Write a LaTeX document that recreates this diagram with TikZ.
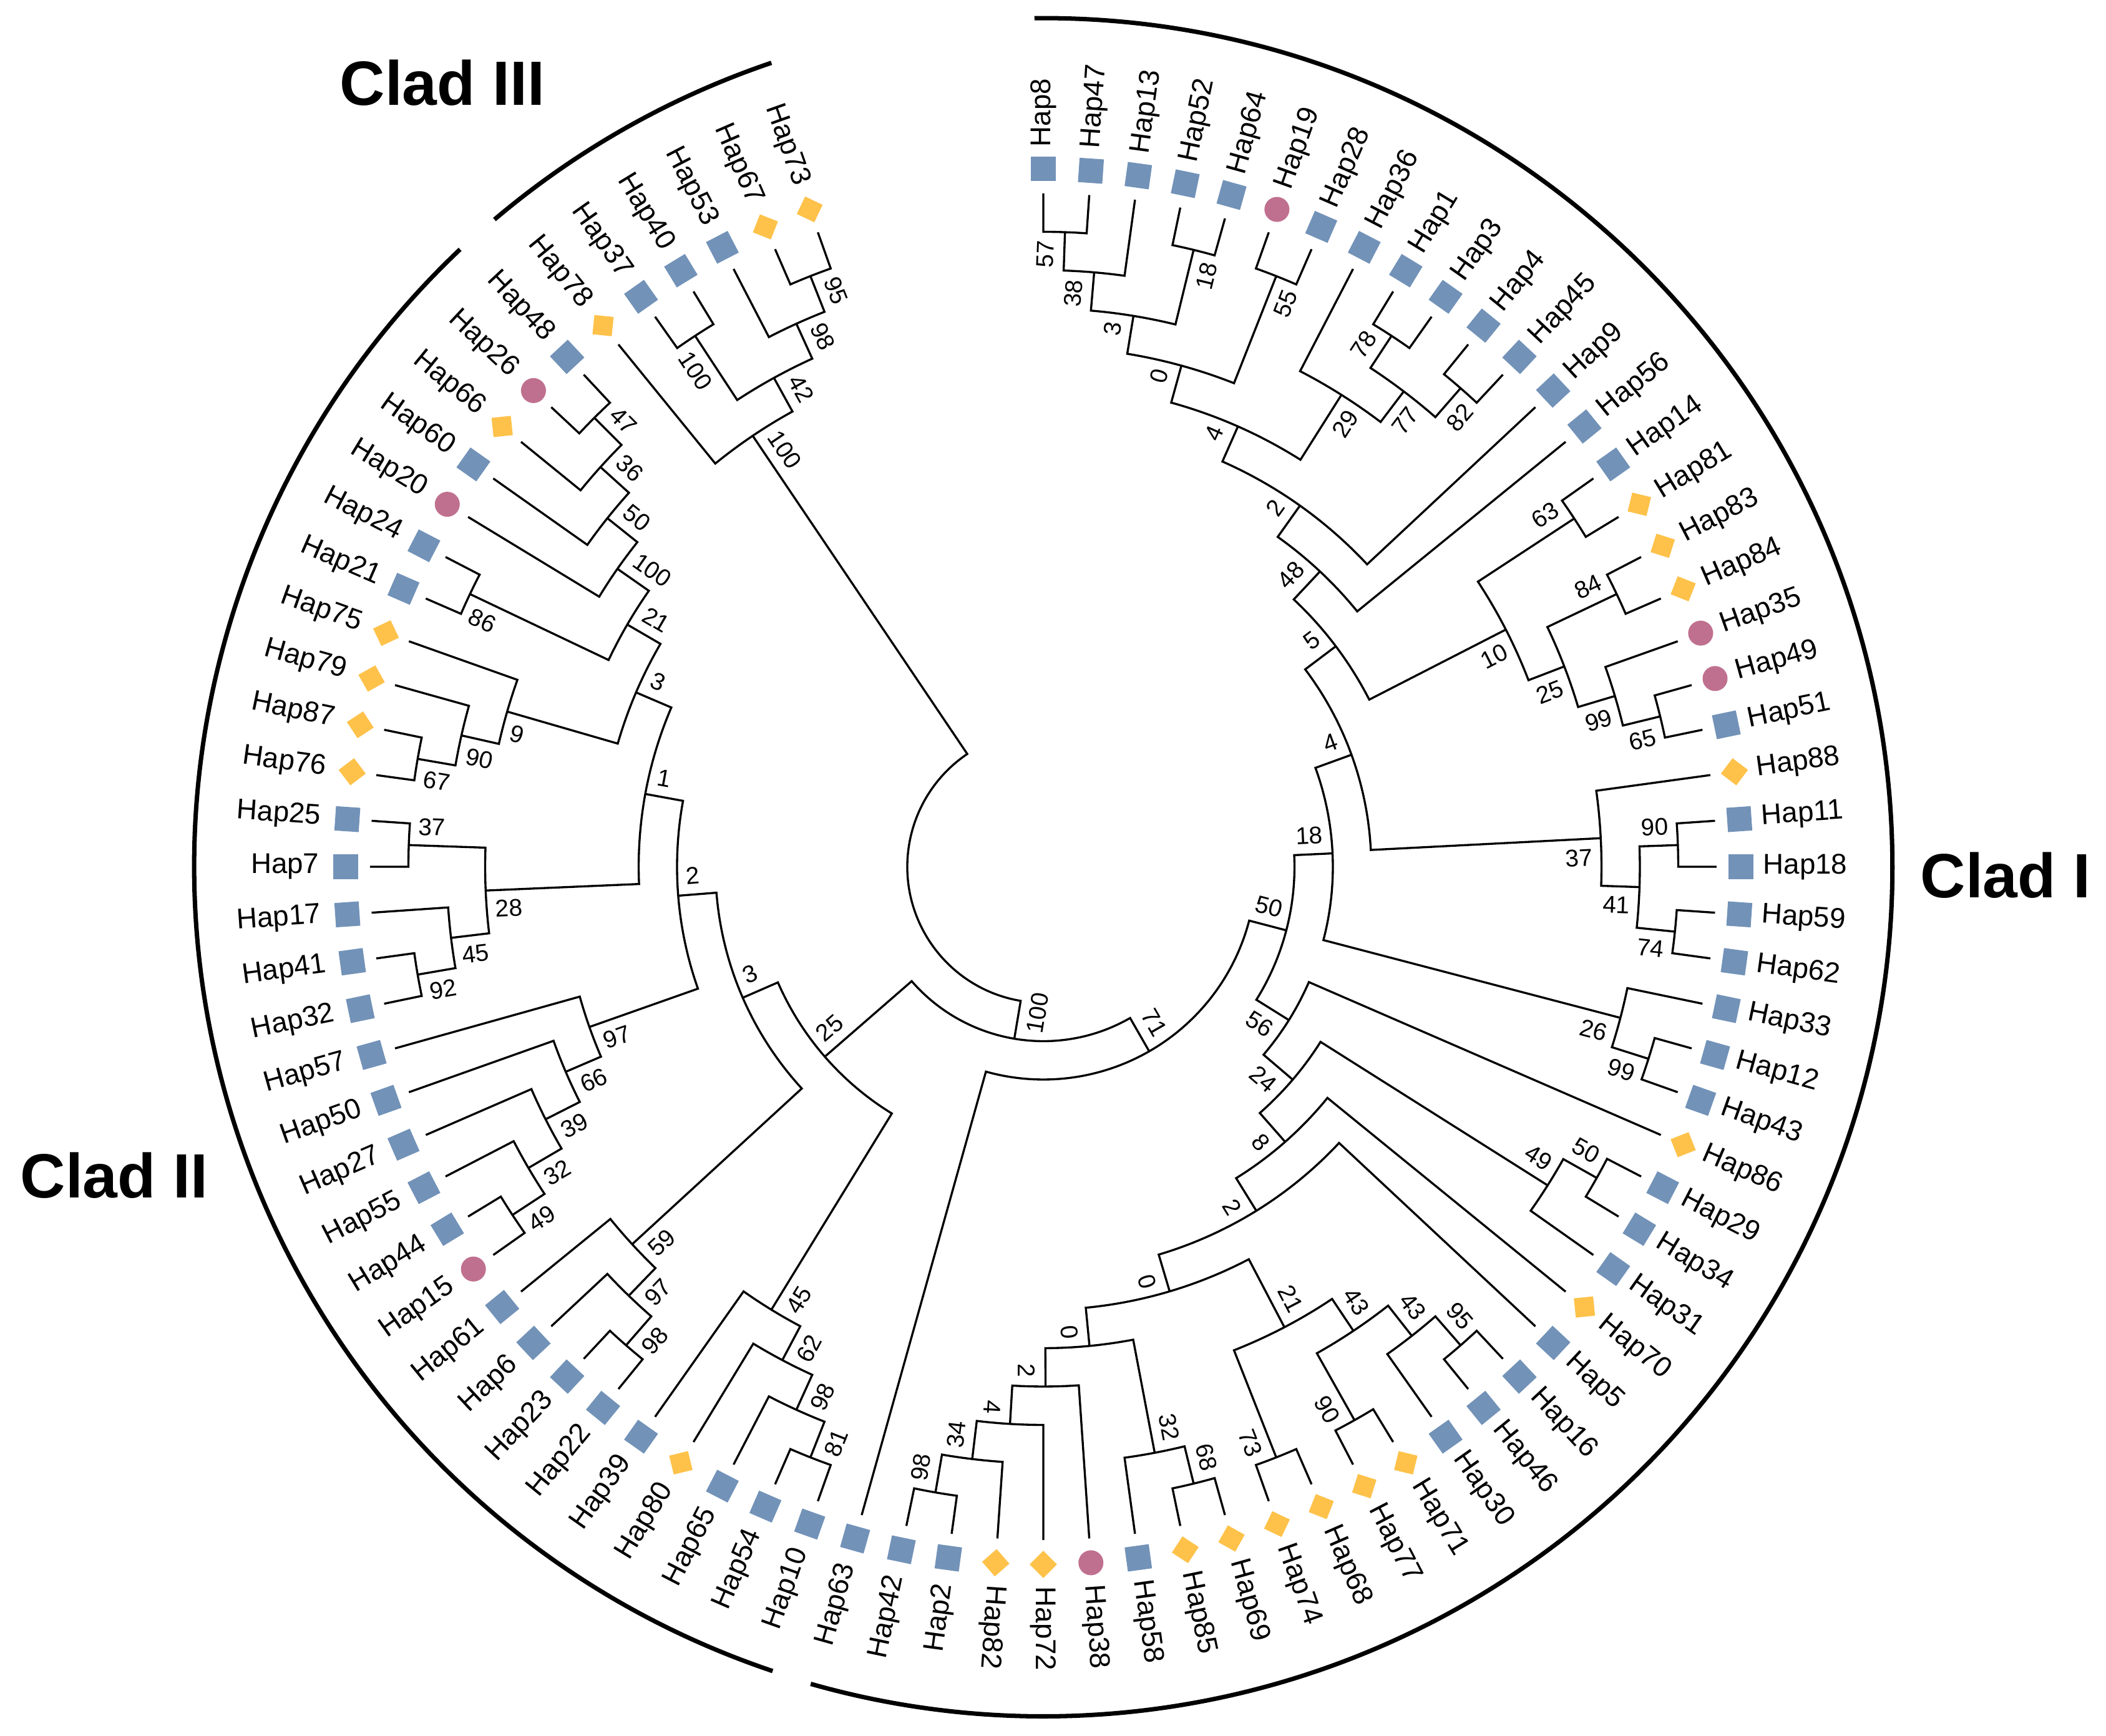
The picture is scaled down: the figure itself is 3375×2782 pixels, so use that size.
\documentclass[tikz,border=0pt]{standalone}
\usepackage{fontspec}
\setmainfont{Liberation Sans}
\usetikzlibrary{calc}
\definecolor{hapblue}{HTML}{7292B8}
\definecolor{hapyellow}{HTML}{FEC24A}
\definecolor{happink}{HTML}{C0708F}
\tikzset{
 brl/.style={line width=0.95pt, black},
 clade/.style={line width=2pt, black},
 hap/.style={inner sep=0pt, font=\fontsize{13pt}{15pt}\selectfont},
 bs/.style={inner sep=0pt, font=\fontsize{11pt}{13pt}\selectfont},
 mkB/.style={rectangle, fill=hapblue, minimum size=0.39cm, inner sep=0pt},
 mkY/.style={rectangle, fill=hapyellow, minimum size=0.31cm, inner sep=0pt, rotate=45},
 mkP/.style={circle, fill=happink, minimum size=0.40cm, inner sep=0pt},
 cladlab/.style={inner sep=0pt, anchor=base west, font=\fontsize{28.5pt}{32pt}\selectfont\bfseries},
}
\newcommand\storx[4]{%
  \expandafter\xdef\csname TA#1\endcsname{#2}%
  \expandafter\xdef\csname TR#1\endcsname{#3}%
  \expandafter\gdef\csname TB#1\endcsname{#4}}
\newcommand\leafx[3]{%
  \pgfmathsetmacro\lfa{(#1-1)*3.9130435}%
  \storx{#2}{\lfa}{1079}{}%
  \pgfmathsetmacro\lfm{90-\lfa}%
  \pgfmathsetmacro\lfn{\lfm+180}%
  \coordinate (#2) at (\lfm:1079);
  \node[#3, rotate=\lfm] (m#2) at (\lfm:1118) {};
  \ifdim\lfa pt>185pt
    \node[hap, anchor=east, rotate=\lfn] (t#2) at (\lfm:1160) {#2};
  \else
    \node[hap, anchor=west, rotate=\lfm] (t#2) at (\lfm:1153) {#2};
  \fi}
\newcommand\bslab[2]{%
  \expandafter\ifx\csname TB#1\endcsname\empty\else
    \edef\bsa{\csname TA#1\endcsname}%
    \edef\bsr{\csname TR#1\endcsname}%
    \pgfmathsetmacro\bsm{90-\bsa}%
    \pgfmathsetmacro\bsq{\bsr-14}%
    \pgfmathsetmacro\bsd{\bsm+90*#2}%
    \pgfmathsetmacro\bsn{\bsm+180}%
    \ifdim\bsa pt>185pt
      \node[bs, anchor=west, rotate=\bsn] (b#1) at ($(\bsm:\bsq)+(\bsd:30)$) {\csname TB#1\endcsname};
    \else
      \node[bs, anchor=east, rotate=\bsm] (b#1) at ($(\bsm:\bsq)+(\bsd:30)$) {\csname TB#1\endcsname};
    \fi
  \fi}
\newcommand\joinx[5]{%
  \edef\nda{\csname TA#3\endcsname}%
  \edef\ndb{\csname TA#4\endcsname}%
  \pgfmathsetmacro\ndm{(\nda+\ndb)/2}%
  \pgfmathsetmacro\ndr{1079-61.5*#2}%
  \storx{#1}{\ndm}{\ndr}{#5}%
  \pgfmathsetmacro\ndp{90-\ndm}%
  \pgfmathsetmacro\ndx{90-\nda}%
  \pgfmathsetmacro\ndy{90-\ndb}%
  \pgfmathsetmacro\ndc{\ndr*0.01}%
  \coordinate (#1) at (\ndp:\ndr);
  \draw[brl] (#3) -- (\ndx:\ndr) arc[start angle=\ndx, end angle=\ndy, radius=\ndc cm] -- (#4);
  \bslab{#3}{1}%
  \bslab{#4}{-1}}
\begin{document}
\begin{tikzpicture}[x=0.01cm, y=0.01cm]
\fill[white] (-1672,-1393) rectangle (1703,1389);
\useasboundingbox (-1672,-1393) rectangle (1703,1389);
% leaves
\leafx{1}{Hap8}{mkB}
\leafx{2}{Hap47}{mkB}
\leafx{3}{Hap13}{mkB}
\leafx{4}{Hap52}{mkB}
\leafx{5}{Hap64}{mkB}
\leafx{6}{Hap19}{mkP}
\leafx{7}{Hap28}{mkB}
\leafx{8}{Hap36}{mkB}
\leafx{9}{Hap1}{mkB}
\leafx{10}{Hap3}{mkB}
\leafx{11}{Hap4}{mkB}
\leafx{12}{Hap45}{mkB}
\leafx{13}{Hap9}{mkB}
\leafx{14}{Hap56}{mkB}
\leafx{15}{Hap14}{mkB}
\leafx{16}{Hap81}{mkY}
\leafx{17}{Hap83}{mkY}
\leafx{18}{Hap84}{mkY}
\leafx{19}{Hap35}{mkP}
\leafx{20}{Hap49}{mkP}
\leafx{21}{Hap51}{mkB}
\leafx{22}{Hap88}{mkY}
\leafx{23}{Hap11}{mkB}
\leafx{24}{Hap18}{mkB}
\leafx{25}{Hap59}{mkB}
\leafx{26}{Hap62}{mkB}
\leafx{27}{Hap33}{mkB}
\leafx{28}{Hap12}{mkB}
\leafx{29}{Hap43}{mkB}
\leafx{30}{Hap86}{mkY}
\leafx{31}{Hap29}{mkB}
\leafx{32}{Hap34}{mkB}
\leafx{33}{Hap31}{mkB}
\leafx{34}{Hap70}{mkY}
\leafx{35}{Hap5}{mkB}
\leafx{36}{Hap16}{mkB}
\leafx{37}{Hap46}{mkB}
\leafx{38}{Hap30}{mkB}
\leafx{39}{Hap71}{mkY}
\leafx{40}{Hap77}{mkY}
\leafx{41}{Hap68}{mkY}
\leafx{42}{Hap74}{mkY}
\leafx{43}{Hap69}{mkY}
\leafx{44}{Hap85}{mkY}
\leafx{45}{Hap58}{mkB}
\leafx{46}{Hap38}{mkP}
\leafx{47}{Hap72}{mkY}
\leafx{48}{Hap82}{mkY}
\leafx{49}{Hap2}{mkB}
\leafx{50}{Hap42}{mkB}
\leafx{51}{Hap63}{mkB}
\leafx{52}{Hap10}{mkB}
\leafx{53}{Hap54}{mkB}
\leafx{54}{Hap65}{mkB}
\leafx{55}{Hap80}{mkY}
\leafx{56}{Hap39}{mkB}
\leafx{57}{Hap22}{mkB}
\leafx{58}{Hap23}{mkB}
\leafx{59}{Hap6}{mkB}
\leafx{60}{Hap61}{mkB}
\leafx{61}{Hap15}{mkP}
\leafx{62}{Hap44}{mkB}
\leafx{63}{Hap55}{mkB}
\leafx{64}{Hap27}{mkB}
\leafx{65}{Hap50}{mkB}
\leafx{66}{Hap57}{mkB}
\leafx{67}{Hap32}{mkB}
\leafx{68}{Hap41}{mkB}
\leafx{69}{Hap17}{mkB}
\leafx{70}{Hap7}{mkB}
\leafx{71}{Hap25}{mkB}
\leafx{72}{Hap76}{mkY}
\leafx{73}{Hap87}{mkY}
\leafx{74}{Hap79}{mkY}
\leafx{75}{Hap75}{mkY}
\leafx{76}{Hap21}{mkB}
\leafx{77}{Hap24}{mkB}
\leafx{78}{Hap20}{mkP}
\leafx{79}{Hap60}{mkB}
\leafx{80}{Hap66}{mkY}
\leafx{81}{Hap26}{mkP}
\leafx{82}{Hap48}{mkB}
\leafx{83}{Hap78}{mkY}
\leafx{84}{Hap37}{mkB}
\leafx{85}{Hap40}{mkB}
\leafx{86}{Hap53}{mkB}
\leafx{87}{Hap67}{mkY}
\leafx{88}{Hap73}{mkY}
% Clad I
\joinx{a57}{1}{Hap8}{Hap47}{57}
\joinx{a38}{2}{a57}{Hap13}{38}
\joinx{a18}{1}{Hap52}{Hap64}{18}
\joinx{a3}{3}{a38}{a18}{3}
\joinx{a55}{1}{Hap19}{Hap28}{55}
\joinx{a0}{4}{a3}{a55}{0}
\joinx{a78}{1}{Hap1}{Hap3}{78}
\joinx{a82}{1}{Hap4}{Hap45}{82}
\joinx{a77}{2}{a78}{a82}{77}
\joinx{a29}{3}{Hap36}{a77}{29}
\joinx{a4}{5}{a0}{a29}{4}
\joinx{a2}{6}{a4}{Hap9}{2}
\joinx{a48}{7}{a2}{Hap56}{48}
\joinx{b63}{1}{Hap14}{Hap81}{63}
\joinx{b84}{1}{Hap83}{Hap84}{84}
\joinx{b65}{1}{Hap49}{Hap51}{65}
\joinx{b99}{2}{Hap35}{b65}{99}
\joinx{b25}{3}{b84}{b99}{25}
\joinx{b10}{4}{b63}{b25}{10}
\joinx{b5}{8}{a48}{b10}{5}
\joinx{c90}{1}{Hap11}{Hap18}{90}
\joinx{c74}{1}{Hap59}{Hap62}{74}
\joinx{c41}{2}{c90}{c74}{41}
\joinx{c37}{3}{Hap88}{c41}{37}
\joinx{c4}{9}{b5}{c37}{4}
\joinx{d99}{1}{Hap12}{Hap43}{99}
\joinx{d26}{2}{Hap33}{d99}{26}
\joinx{d18}{10}{c4}{d26}{18}
\joinx{e50}{1}{Hap29}{Hap34}{50}
\joinx{e49}{2}{e50}{Hap31}{49}
\joinx{f95}{1}{Hap16}{Hap46}{95}
\joinx{f43b}{2}{f95}{Hap30}{43}
\joinx{f90}{1}{Hap71}{Hap77}{90}
\joinx{f43a}{3}{f43b}{f90}{43}
\joinx{f73}{1}{Hap68}{Hap74}{73}
\joinx{f21}{4}{f43a}{f73}{21}
\joinx{g68}{1}{Hap69}{Hap85}{68}
\joinx{g32}{2}{g68}{Hap58}{32}
\joinx{g98}{1}{Hap2}{Hap42}{98}
\joinx{g34}{2}{Hap82}{g98}{34}
\joinx{g4}{3}{Hap72}{g34}{4}
\joinx{g2}{4}{Hap38}{g4}{2}
\joinx{g0b}{5}{g32}{g2}{0}
\joinx{f0a}{6}{f21}{g0b}{0}
\joinx{h2}{7}{Hap5}{f0a}{2}
\joinx{h8}{8}{Hap70}{h2}{8}
\joinx{h24}{9}{e49}{h8}{24}
\joinx{h56}{10}{Hap86}{h24}{56}
\joinx{n50}{11}{d18}{h56}{50}
\joinx{n71}{12}{n50}{Hap63}{71}
% Clad II
\joinx{k81}{1}{Hap10}{Hap54}{81}
\joinx{k98}{2}{k81}{Hap65}{98}
\joinx{k62}{3}{k98}{Hap80}{62}
\joinx{k45}{4}{k62}{Hap39}{45}
\joinx{m98}{1}{Hap22}{Hap23}{98}
\joinx{m97}{2}{m98}{Hap6}{97}
\joinx{m59}{3}{m97}{Hap61}{59}
\joinx{p49}{1}{Hap15}{Hap44}{49}
\joinx{p32}{2}{p49}{Hap55}{32}
\joinx{p39}{3}{p32}{Hap27}{39}
\joinx{p66}{4}{p39}{Hap50}{66}
\joinx{p97}{5}{p66}{Hap57}{97}
\joinx{q92}{1}{Hap32}{Hap41}{92}
\joinx{q45}{2}{q92}{Hap17}{45}
\joinx{q37}{1}{Hap7}{Hap25}{37}
\joinx{q28}{3}{q45}{q37}{28}
\joinx{s67}{1}{Hap76}{Hap87}{67}
\joinx{s90}{2}{s67}{Hap79}{90}
\joinx{s9}{3}{s90}{Hap75}{9}
\joinx{t86}{1}{Hap21}{Hap24}{86}
\joinx{t47}{1}{Hap26}{Hap48}{47}
\joinx{t36}{2}{Hap66}{t47}{36}
\joinx{t50}{3}{Hap60}{t36}{50}
\joinx{t100}{4}{Hap20}{t50}{100}
\joinx{t21}{5}{t86}{t100}{21}
\joinx{s3}{6}{s9}{t21}{3}
\joinx{q1}{7}{q28}{s3}{1}
\joinx{p2}{8}{p97}{q1}{2}
\joinx{m3}{9}{m59}{p2}{3}
\joinx{k25}{10}{k45}{m3}{25}
% Clad III
\joinx{u100}{1}{Hap37}{Hap40}{100}
\joinx{u95}{1}{Hap67}{Hap73}{95}
\joinx{u98}{2}{Hap53}{u95}{98}
\joinx{u42}{3}{u100}{u98}{42}
\joinx{u100r}{4}{Hap78}{u42}{100}
% root
\joinx{n100}{13}{n71}{k25}{100}
\joinx{root}{14}{n100}{u100r}{}
% clade brackets
\coordinate (cIs) at (90.6:1360);
\coordinate (cIIs) at (-108.6:1360);
\coordinate (cIIIs) at (-229.7:1360);
\draw[clade] (cIs) arc[start angle=90.6, end angle=-105.9, radius=13.6cm];
\draw[clade] (cIIs) arc[start angle=-108.6, end angle=-226.6, radius=13.6cm];
\draw[clade] (cIIIs) arc[start angle=-229.7, end angle=-251.3, radius=13.6cm];
\node[cladlab] (labI) at (1405,-49.5) {Clad I};
\node[cladlab] (labII) at (-1640,-531) {Clad II};
\node[cladlab] (labIII) at (-1128,1220) {Clad III};
\end{tikzpicture}
\end{document}
